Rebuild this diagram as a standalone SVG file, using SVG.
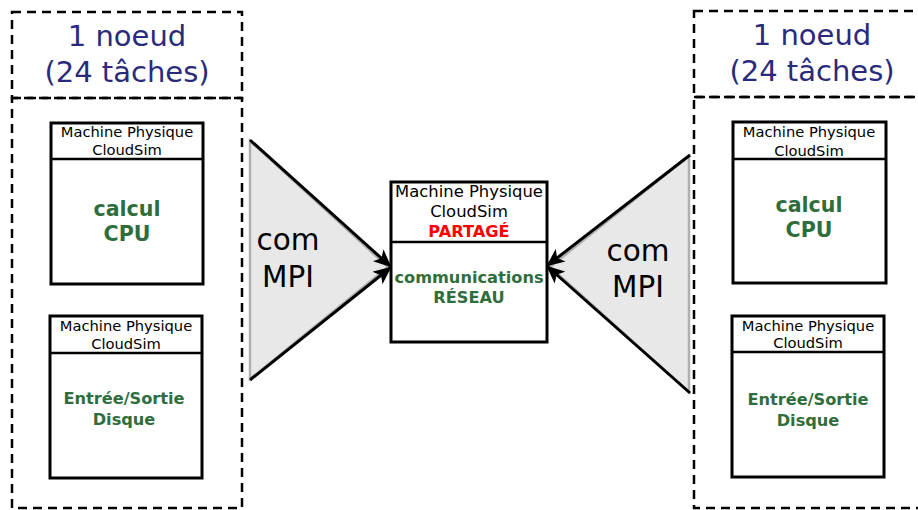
<svg xmlns="http://www.w3.org/2000/svg" width="918" height="510" viewBox="0 0 918 510">
<defs>
<style>
text{font-family:"DejaVu Sans","Liberation Sans",sans-serif;text-anchor:middle}
.dash{fill:none;stroke:#000;stroke-width:2.5;stroke-dasharray:9,6}
.box{fill:#fff;stroke:#000;stroke-width:3}
.sep{stroke:#000;stroke-width:2.5}
.hdr{font-size:14.7px;fill:#000}
.hdrc{font-size:16.4px;fill:#000}
.node{font-size:29px;fill:#2a2a7c}
.big{font-size:20.6px;font-weight:bold;fill:#2f6e3c}
.mid{font-size:16.2px;font-weight:bold;fill:#2f6e3c}
.red{font-size:16.2px;font-weight:bold;fill:#ff0000}
.com{font-size:29.5px;fill:#000}
.tri{fill:#e8e8e8;stroke:#b0b0b0;stroke-width:2.5}
.arr{stroke:#000;stroke-width:3;fill:none;marker-end:url(#ah)}
</style>
<marker id="ah" markerWidth="18" markerHeight="16" refX="16" refY="8" orient="auto" markerUnits="userSpaceOnUse">
<path d="M0,0 L18,8 L0,16 L4.5,8 Z" fill="#000"/>
</marker>
</defs>

<g id="node-left">
<rect class="dash" x="12" y="12" width="230" height="86"/>
<rect class="dash" x="12" y="98" width="230" height="410"/>
<text class="node" x="127" y="46">1 noeud</text>
<text class="node" x="127" y="82">(24 tâches)</text>
</g>

<g id="pm-left-cpu">
<rect class="box" x="51" y="123" width="152" height="161"/>
<line class="sep" x1="51" y1="159" x2="203" y2="159"/>
<text class="hdr" x="127" y="137">Machine Physique</text>
<text class="hdr" x="127" y="155">CloudSim</text>
<text class="big" x="127" y="216">calcul</text>
<text class="big" x="127" y="241">CPU</text>
</g>

<g id="pm-left-io">
<rect class="box" x="50" y="316" width="152" height="162"/>
<line class="sep" x1="50" y1="353" x2="202" y2="353"/>
<text class="hdr" x="126" y="331">Machine Physique</text>
<text class="hdr" x="126" y="349">CloudSim</text>
<text class="mid" x="124" y="404">Entrée/Sortie</text>
<text class="mid" x="124" y="425">Disque</text>
</g>

<g id="node-right">
<rect class="dash" x="694" y="11" width="240" height="86"/>
<rect class="dash" x="694" y="97" width="240" height="411"/>
<text class="node" x="812" y="45">1 noeud</text>
<text class="node" x="812" y="81">(24 tâches)</text>
</g>

<g id="pm-right-cpu">
<rect class="box" x="733" y="122" width="153" height="161"/>
<line class="sep" x1="733" y1="159" x2="886" y2="159"/>
<text class="hdr" x="809" y="137">Machine Physique</text>
<text class="hdr" x="809" y="156">CloudSim</text>
<text class="big" x="809" y="212">calcul</text>
<text class="big" x="809" y="237">CPU</text>
</g>

<g id="pm-right-io">
<rect class="box" x="732" y="316" width="152" height="161"/>
<line class="sep" x1="732" y1="352" x2="884" y2="352"/>
<text class="hdr" x="808" y="331">Machine Physique</text>
<text class="hdr" x="808" y="348">CloudSim</text>
<text class="mid" x="808" y="405">Entrée/Sortie</text>
<text class="mid" x="808" y="426">Disque</text>
</g>

<g id="pm-shared">
<rect class="box" x="391" y="182" width="156" height="160"/>
<line class="sep" x1="391" y1="242" x2="547" y2="242"/>
<text class="hdrc" x="469" y="197">Machine Physique</text>
<text class="hdrc" x="469" y="217">CloudSim</text>
<text class="red" x="469" y="237">PARTAGÉ</text>
<text class="mid" x="469" y="283">communications</text>
<text class="mid" x="469" y="303">RÉSEAU</text>
</g>

<g id="connectors">
<polygon class="tri" points="250,141 250,379 388,267"/>
<line class="arr" x1="250" y1="140" x2="390" y2="266"/>
<line class="arr" x1="250" y1="380" x2="390" y2="268"/>
<text class="com" x="288" y="250">com</text>
<text class="com" x="288" y="287">MPI</text>

<polygon class="tri" points="689,156 689,392 550,267"/>
<line class="arr" x1="690" y1="155" x2="548" y2="265"/>
<line class="arr" x1="690" y1="393" x2="548" y2="267"/>
<text class="com" x="638" y="261">com</text>
<text class="com" x="638" y="297">MPI</text>
</g>
</svg>
